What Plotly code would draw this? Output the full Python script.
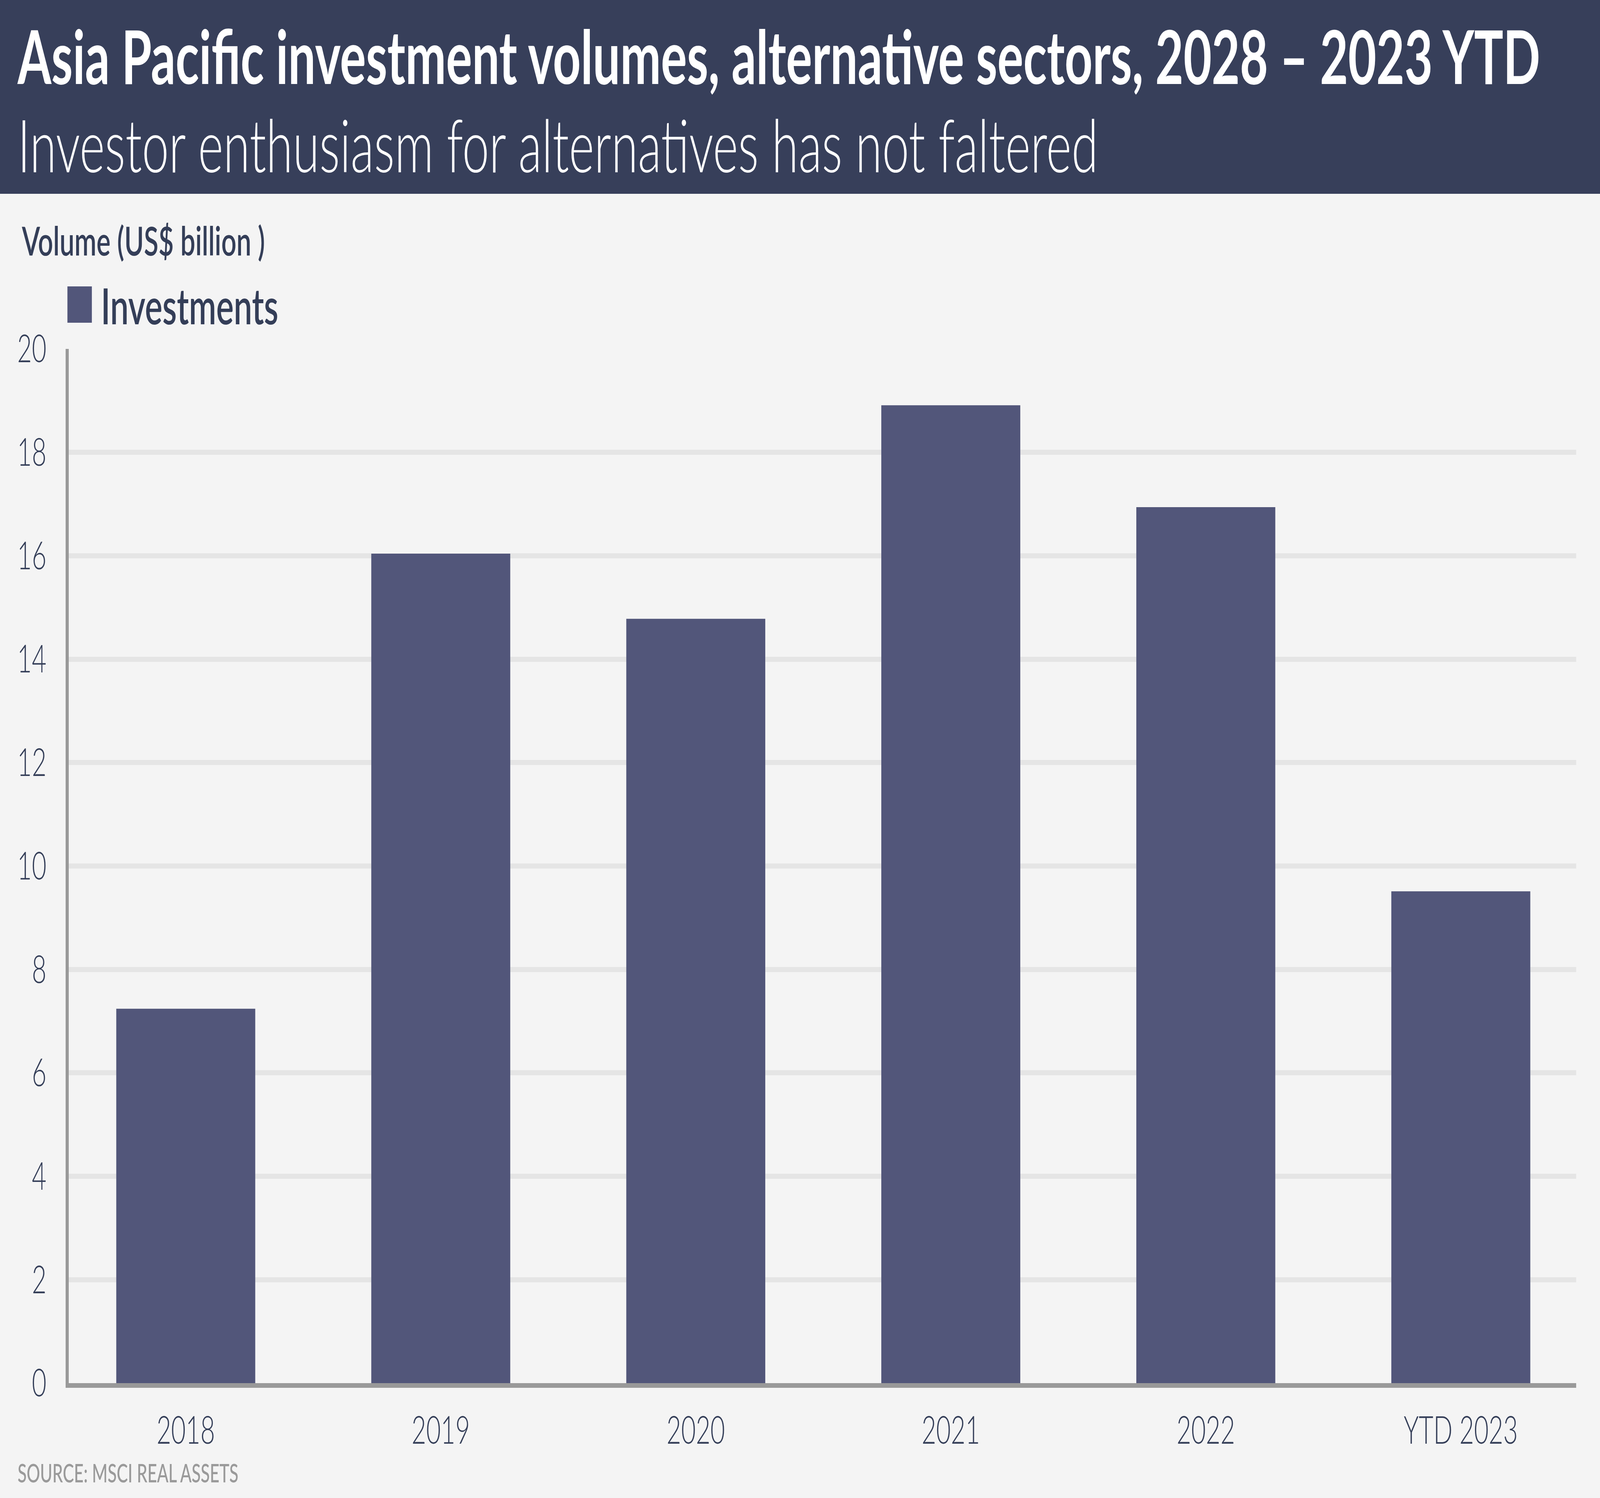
import plotly.graph_objects as go

# ---- data ----
categories = ["2018", "2019", "2020", "2021", "2022", "YTD 2023"]
investments = [7.24, 16.04, 14.78, 18.91, 16.94, 9.51]
y_ticks = [0, 2, 4, 6, 8, 10, 12, 14, 16, 18, 20]
series_name = "Investments"
title_text = "Asia Pacific investment volumes, alternative sectors, 2028 \u2013 2023 YTD"
subtitle_text = "Investor enthusiasm for alternatives has not faltered"
y_title_text = "Volume (US$ billion )"
source_text = "SOURCE: MSCI REAL ASSETS"

# ---- layout geometry (pixels) ----
W, H = 6218, 3834
L, R, T, B = 267, 92, 893, 294
PW = W - L - R
PH = H - T - B

def px(x):
    return (x - L) / PW

def py(y):
    return (H - B - y) / PH

FONT = "Lato"
NAVY = "#343e58"
HEADER = "#373f5a"
BAR = "#52567a"
BG = "#f4f4f4"

fig = go.Figure()
fig.add_trace(go.Bar(
    x=categories, y=investments, name=series_name,
    marker=dict(color=BAR, line=dict(width=0)),
    showlegend=False,
))

fig.update_layout(
    width=W, height=H,
    margin=dict(l=L, r=R, t=T, b=B, autoexpand=False),
    paper_bgcolor=BG, plot_bgcolor=BG,
    bargap=0.455,
    font=dict(family=FONT, color=NAVY),
    xaxis=dict(
        type="category", range=[-0.459, 5.453],
        showline=True, linecolor="#999999", linewidth=12,
        showgrid=False, zeroline=False,
        ticks="", ticklabelstandoff=25,
        tickfont=dict(family=FONT, size=98, color=NAVY, weight=300),
    ),
    yaxis=dict(
        range=[0, 20], tickvals=y_ticks,
        showline=True, linecolor="#999999", linewidth=12,
        showgrid=True, gridcolor="#e5e5e5", gridwidth=13,
        zeroline=False, ticks="", ticklabelstandoff=55,
        tickfont=dict(family=FONT, size=98, color=NAVY, weight=300),
    ),
    shapes=[
        dict(type="rect", xref="paper", yref="paper",
             x0=px(-20), x1=px(W + 20), y0=py(496), y1=py(-20),
             fillcolor=HEADER, line=dict(width=0), layer="below"),
        dict(type="rect", xref="paper", yref="paper",
             x0=px(262), x1=px(357), y0=py(826), y1=py(733),
             fillcolor=BAR, line=dict(width=0)),
    ],
    annotations=[
        dict(text=title_text, xref="paper", yref="paper", x=px(64), y=py(142),
             xanchor="left", yanchor="middle", showarrow=False,
             font=dict(family=FONT, size=189, color="white", weight=700)),
        dict(text=subtitle_text, xref="paper", yref="paper", x=px(66), y=py(368),
             xanchor="left", yanchor="middle", showarrow=False,
             font=dict(family=FONT, size=188, color="white", weight=300)),
        dict(text=y_title_text, xref="paper", yref="paper", x=px(82), y=py(614),
             xanchor="left", yanchor="middle", showarrow=False,
             font=dict(family=FONT, size=103, color=NAVY, weight=600)),
        dict(text=series_name, xref="paper", yref="paper", x=px(390), y=py(780),
             xanchor="left", yanchor="middle", showarrow=False,
             font=dict(family=FONT, size=128, color=NAVY, weight=600)),
        dict(text=source_text, xref="paper", yref="paper", x=px(66), y=py(3769),
             xanchor="left", yanchor="middle", showarrow=False,
             font=dict(family=FONT, size=65, color="#9a9a9a", weight=500)),
    ],
)

# Remove the page margin and, if the browser window is smaller than the
# figure, fit the whole figure into the window so nothing is cut off.
fit_script = """
var gd = document.getElementById('{plot_id}');
document.documentElement.style.margin = '0';
document.body.style.margin = '0';
document.documentElement.style.overflow = 'hidden';
document.body.style.overflow = 'hidden';
var sx = Math.min(1, window.innerWidth / %d);
var sy = Math.min(1, window.innerHeight / %d);
if (sx < 1 || sy < 1) {
  gd.style.transformOrigin = '0 0';
  gd.style.transform = 'scale(' + sx + ',' + sy + ')';
}
""" % (W, H)
fig.write_html("out.html", post_script=fit_script, config={"displayModeBar": False})
